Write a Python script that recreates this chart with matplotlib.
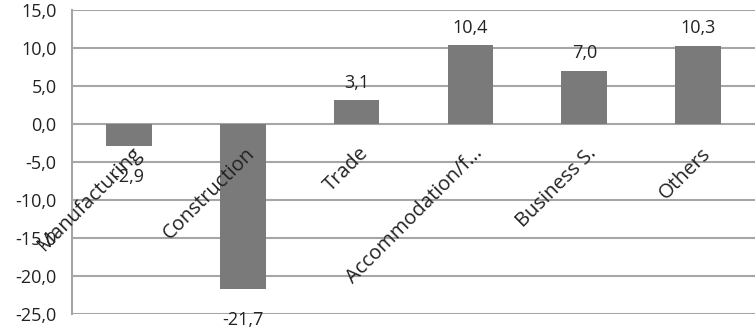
import matplotlib
matplotlib.use('Agg')
import matplotlib.pyplot as plt
from matplotlib.ticker import FuncFormatter, MultipleLocator

plt.rcParams['font.family'] = ['Open Sans', 'DejaVu Sans']

# sector growth data
sectors = ['Manufacturing', 'Construction', 'Trade', 'Accommodation/f...', 'Business S.', 'Others']
growth = [-2.9, -21.7, 3.1, 10.4, 7.0, 10.3]

def comma(v):
    return f'{v:.1f}'.replace('.', ',')

fig = plt.figure(figsize=(7.55, 3.29), dpi=100)
ax = fig.add_axes([0.0954, 0.0456, 0.9046, 0.924])

x = list(range(len(sectors)))
ax.bar(x, growth, width=0.4, color='#7a7a7a', zorder=3)

ax.set_xlim(-0.5, 5.5)
ax.set_ylim(-25, 15)
ax.yaxis.set_major_locator(MultipleLocator(5))
ax.yaxis.set_major_formatter(FuncFormatter(lambda v, p: comma(v)))
ax.grid(axis='y', color='#a6a6a6', linewidth=1.5, zorder=0)
ax.tick_params(axis='y', length=0, labelsize=13, pad=11, labelcolor='#222222')
ax.tick_params(axis='x', length=0, labelbottom=False)
for s in ['top', 'right', 'bottom']:
    ax.spines[s].set_visible(False)
ax.spines['left'].set_color('#a6a6a6')
ax.spines['left'].set_linewidth(1.5)

# value labels
for i, v in enumerate(growth):
    off = 6 if v >= 0 else -16
    ax.annotate(comma(v), (i, v), xytext=(0, off), textcoords='offset points',
                ha='center', va='bottom' if v >= 0 else 'top', fontsize=13,
                color='#222222', zorder=4)

# slanted category labels hanging from the zero line
for i, name in enumerate(sectors):
    ax.annotate(name, (i, 0), xytext=(1.5, -14), textcoords='offset points',
                ha='right', va='top', rotation=45, rotation_mode='anchor',
                fontsize=14.5, color='#222222', zorder=4)

fig.savefig('out.png', dpi=100)
